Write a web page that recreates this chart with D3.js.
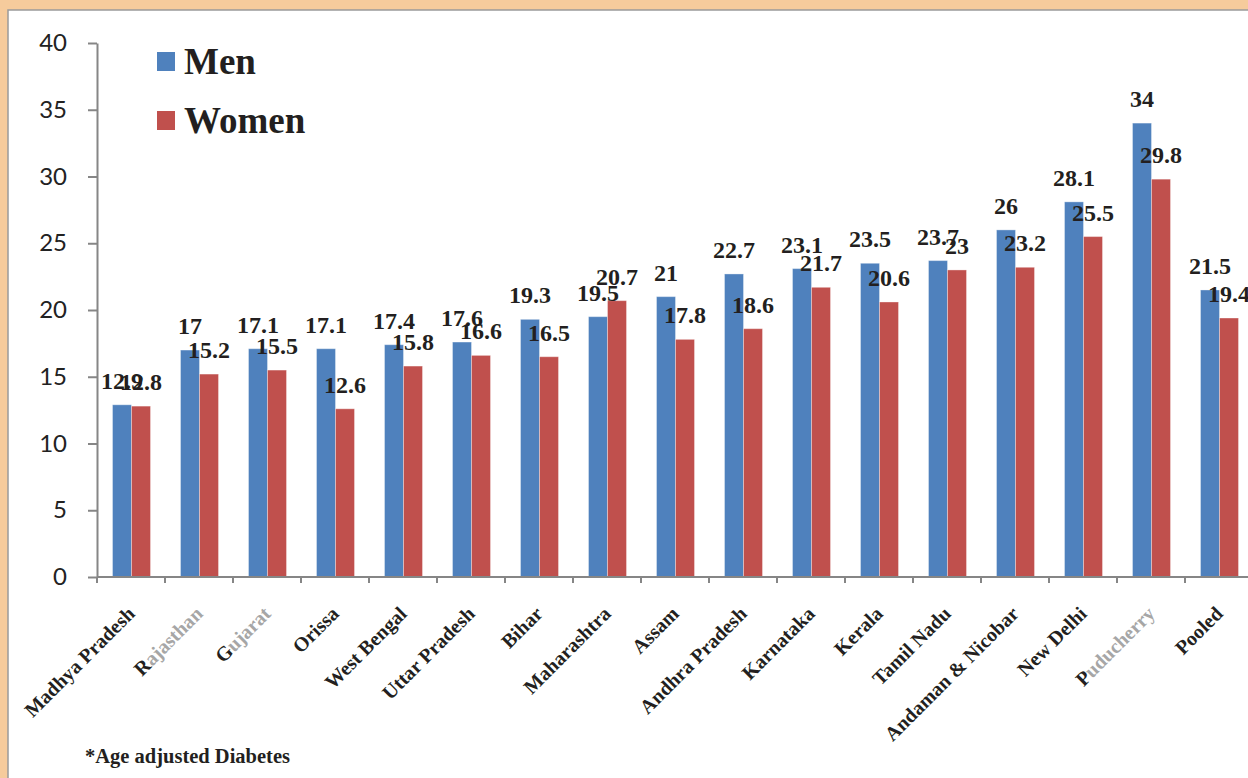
<!DOCTYPE html>
<html>
<head>
<meta charset="utf-8">
<script src="https://cdn.jsdelivr.net/npm/d3@7"></script>
<style>
  body { margin: 0; background: #f6cb9c; }
  svg { display: block; }
</style>
</head>
<body>
<svg width="1248" height="778"></svg>
<script>
var WIDTH = 1248;
var HEIGHT = 778;

var states = ['Madhya Pradesh', 'Rajasthan', 'Gujarat', 'Orissa', 'West Bengal', 'Uttar Pradesh',
    'Bihar', 'Maharashtra', 'Assam', 'Andhra Pradesh', 'Karnataka', 'Kerala', 'Tamil Nadu',
    'Andaman & Nicobar', 'New Delhi', 'Puducherry', 'Pooled'];
var men = [12.9, 17, 17.1, 17.1, 17.4, 17.6, 19.3, 19.5, 21, 22.7, 23.1, 23.5, 23.7, 26, 28.1, 34, 21.5];
var women = [12.8, 15.2, 15.5, 12.6, 15.8, 16.6, 16.5, 20.7, 17.8, 18.6, 21.7, 20.6, 23, 23.2, 25.5, 29.8, 19.4];
var seriesNames = ['Men', 'Women'];
var yTicks = [0, 5, 10, 15, 20, 25, 30, 35, 40];
var fadedLabels = ['Rajasthan', 'Gujarat', 'Puducherry']; // these print washed out in the original

var colors = d3.scaleOrdinal().domain(seriesNames).range(['#4f81bd', '#c0504d']);
var SERIF = '"Liberation Serif", "Times New Roman", serif';

var svg = d3.select('svg');

// orange frame + white panel
svg.append('rect').attr('width', WIDTH).attr('height', HEIGHT).attr('fill', '#f6cb9c');
svg.append('rect')
    .attr('x', 8).attr('y', 10)
    .attr('width', WIDTH).attr('height', HEIGHT)
    .attr('fill', '#fff')
    .attr('stroke', '#9a9a9a')
    .attr('stroke-width', 1.5);

var x = d3.scaleBand().domain(states).range([97, 97 + 68 * states.length]).padding(0);
var x1 = d3.scaleBand().domain(seriesNames).range([15.5, 53.5]);
var y = d3.scaleLinear().domain([0, 40]).range([577, 43]);

// y axis
var yAxis = svg.append('g')
    .attr('transform', 'translate(97,0)')
    .call(d3.axisLeft(y).tickValues(yTicks).tickSize(9).tickSizeOuter(0).tickPadding(21));
yAxis.select('.domain').attr('stroke', '#868686').attr('stroke-width', 2);
yAxis.selectAll('.tick line').attr('stroke', '#868686').attr('stroke-width', 2);
yAxis.selectAll('.tick text')
    .attr('font-family', 'Lato, "Open Sans", sans-serif')
    .attr('font-size', 24)
    .attr('fill', '#222');

// bars
var rows = states.map(function(s, i) {
    return { state: s, values: [{ key: 'Men', value: men[i] }, { key: 'Women', value: women[i] }] };
});

var groups = svg.selectAll('g.state')
    .data(rows)
    .enter()
    .append('g')
    .attr('class', 'state')
    .attr('transform', function(d) { return 'translate(' + x(d.state) + ',0)'; });

groups.selectAll('rect')
    .data(function(d) { return d.values; })
    .enter()
    .append('rect')
    .attr('x', function(d) { return x1(d.key); })
    .attr('y', function(d) { return y(d.value); })
    .attr('width', x1.bandwidth())
    .attr('height', function(d) { return y(0) - y(d.value); })
    .attr('fill', function(d) { return colors(d.key); })
    .attr('stroke', 'rgba(255,255,255,0.35)')
    .attr('stroke-width', 1);

groups.selectAll('text.val')
    .data(function(d) { return d.values; })
    .enter()
    .append('text')
    .attr('class', 'val')
    .attr('x', function(d) { return x1(d.key) + x1.bandwidth() / 2; })
    .attr('y', function(d) { return y(d.value) - 16; })
    .attr('text-anchor', 'middle')
    .attr('font-family', SERIF)
    .attr('font-weight', 'bold')
    .attr('font-size', 24)
    .attr('fill', '#231f20')
    .text(function(d) { return d.value; });

// x axis line and category ticks
svg.append('line')
    .attr('x1', 97).attr('x2', WIDTH)
    .attr('y1', y(0)).attr('y2', y(0))
    .attr('stroke', '#868686').attr('stroke-width', 2);

svg.selectAll('line.xtick')
    .data(states)
    .enter()
    .append('line')
    .attr('class', 'xtick')
    .attr('x1', function(d) { return x(d); })
    .attr('x2', function(d) { return x(d); })
    .attr('y1', y(0)).attr('y2', y(0) + 6)
    .attr('stroke', '#868686').attr('stroke-width', 2);

// rotated category labels
var labels = svg.selectAll('text.cat')
    .data(states)
    .enter()
    .append('text')
    .attr('class', 'cat')
    .attr('transform', function(d) {
        return 'translate(' + (x(d) + x.bandwidth() / 2 + 5) + ',615) rotate(-45)';
    })
    .attr('text-anchor', 'end')
    .attr('font-family', SERIF)
    .attr('font-weight', 'bold')
    .attr('font-size', 20)
    .attr('fill', '#231f20');

labels.each(function(d) {
    var t = d3.select(this);
    if (fadedLabels.indexOf(d) >= 0) {
        t.append('tspan').text(d.charAt(0));
        t.append('tspan').attr('fill', '#a6a6a6').text(d.slice(1));
    } else {
        t.text(d);
    }
});

// legend
var legend = svg.selectAll('g.legend')
    .data(seriesNames)
    .enter()
    .append('g')
    .attr('class', 'legend')
    .attr('transform', function(d, i) { return 'translate(157,' + (52 + i * 59) + ')'; });

legend.append('rect')
    .attr('width', 18).attr('height', 19)
    .attr('fill', function(d) { return colors(d); });

legend.append('text')
    .attr('x', 27).attr('y', 22)
    .attr('font-family', SERIF)
    .attr('font-weight', 'bold')
    .attr('font-size', 37)
    .attr('fill', '#231f20')
    .text(function(d) { return d; });

// footnote
svg.append('text')
    .attr('x', 85).attr('y', 763)
    .attr('font-family', SERIF)
    .attr('font-weight', 'bold')
    .attr('font-size', 20.5)
    .attr('fill', '#231f20')
    .text('*Age adjusted Diabetes');
</script>
</body>
</html>
